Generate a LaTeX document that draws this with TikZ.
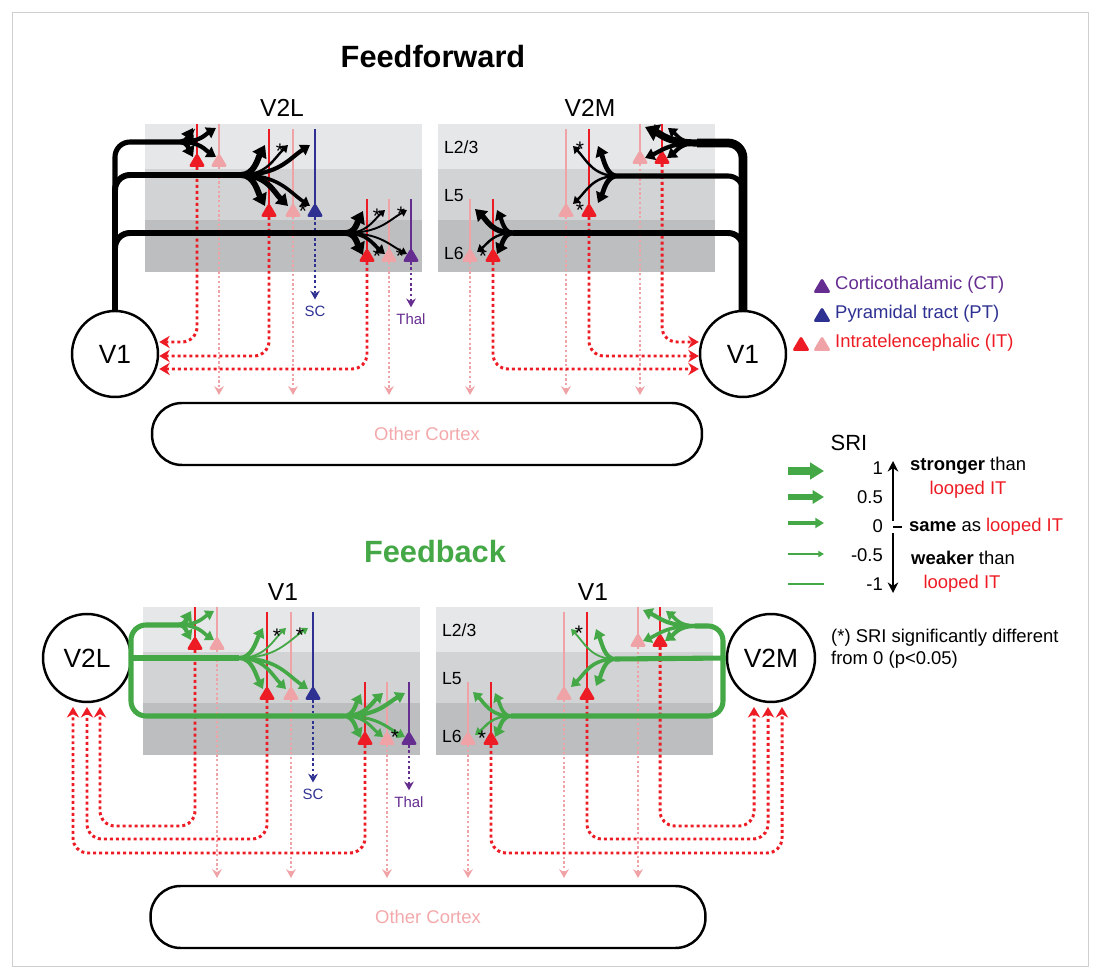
\documentclass[tikz,border=0pt]{standalone}
\usepackage{fontspec}
\setmainfont{Liberation Sans}
\usetikzlibrary{arrows.meta}
\definecolor{ITr}{HTML}{ED1C24}
\definecolor{ITp}{HTML}{F0A3A6}
\definecolor{PT}{HTML}{2E3192}
\definecolor{CT}{HTML}{662D91}
\definecolor{FB}{HTML}{44A847}
\definecolor{Lay1}{HTML}{E6E7E8}
\definecolor{Lay2}{HTML}{D1D3D4}
\definecolor{Lay3}{HTML}{BCBEC0}
\definecolor{OC}{HTML}{F3A9AB}
\definecolor{Frame}{HTML}{CFCFCF}
\newcommand{\soma}[4]{\fill[#1,rounded corners=1.5pt] (#2-#4,#3) -- (#2,#3-1.7*#4) -- (#2+#4,#3) -- cycle;}
\newcommand{\branch}[6]{\draw[#1,line width=#2*0.68pt,-{Triangle[length=2pt 1.4,width=2.5pt 1.8]}] (#3,#4) .. controls ({#3+0.55*(#5-#3)},#4) and ({#5-0.3*(#5-#3)},{#6+0.45*(#4-#6)}) .. (#5,#6);}
\tikzset{
  ttl/.style={font=\fontsize{17.5}{20}\selectfont\bfseries},
  area/.style={font=\fontsize{14}{16}\selectfont},
  ring/.style={draw,circle,line width=1.4pt,minimum size=1.72cm,inner sep=0pt,font=\fontsize{15}{17}\selectfont},
  ocbox/.style={draw,line width=1.4pt,rounded corners=0.6cm,minimum width=11cm,minimum height=1.24cm,text=OC,font=\fontsize{10.5}{12}\selectfont},
  lay/.style={font=\fontsize{10}{12}\selectfont,anchor=west},
  leg/.style={font=\fontsize{10.5}{12.5}\selectfont},
  tgt/.style={font=\fontsize{8.5}{10}\selectfont},
  sig/.style={font=\fontsize{12}{12}\selectfont,inner sep=0pt},
  dend/.style={line width=1.4pt},
  ffax/.style={line width=3.4pt,rounded corners=0.3cm},
  fbax/.style={FB,line width=2.9pt,rounded corners=0.3cm},
  itred/.style={ITr,line width=1.7pt,dash pattern=on 1.7pt off 1.7pt,rounded corners=0.3cm,-{Stealth[length=6pt,width=7pt]}},
  itpink/.style={ITp,line width=1.3pt,dash pattern=on 1.3pt off 1.4pt,-{Stealth[length=5pt,width=5.5pt]}},
  tgtline/.style={line width=1.5pt,dash pattern=on 1.5pt off 1.5pt,-{Stealth[length=5pt,width=5.5pt]}},
}
\begin{document}
\begin{tikzpicture}[x=0.02cm,y=-0.02cm]
  \useasboundingbox (0,0) rectangle (1099,972);
  \draw[Frame,line width=0.5pt] (12,12) rectangle (1088,966);

  \node[ttl] (ff) at (433,57) {Feedforward};
  \node[ttl,text=FB] (fb) at (435,552) {Feedback};
  \node[area] (hT1) at (282,108) {V2L};
  \node[area] (hT2) at (590,108) {V2M};
  \node[area] (hB1) at (283,592) {V1};
  \node[area] (hB2) at (593,592) {V1};

  \node[ring] (v1L) at (115,354) {V1};
  \node[ring] (v1R) at (743,354) {V1};
  \node[ring,minimum size=1.76cm] (v2l) at (87,658) {V2L};
  \node[ring,minimum size=1.76cm] (v2m) at (771,658) {V2M};
  \node[ocbox] (ocT) at (427,434) {Other Cortex};
  \node[ocbox,minimum width=11.1cm] (ocB) at (428,917) {Other Cortex};

  \foreach \sx/\sy/\p in {0/0/T,-2/483/B} {
    \begin{scope}[shift={(\sx,\sy)}]
      \foreach \xa/\xb in {145/422,438/715} {
        \fill[Lay1] (\xa,124) rectangle (\xb,169);
        \fill[Lay2] (\xa,169) rectangle (\xb,220);
        \fill[Lay3] (\xa,220) rectangle (\xb,272);
      }
      \node[lay] (la\p) at (438,147) {L2/3};
      \node[lay] (lb\p) at (438,196) {L5};
      \node[lay] (lc\p) at (438,253) {L6};
      \foreach \x/\yt/\yb/\c [count=\n] in {197/124/167/ITr,219/124/167/ITp,
          269/129/217/ITr,293/129/217/ITp,315/129/217/PT,
          367/199/262/ITr,389/199/262/ITp,411/199/262/CT,
          470/199/262/ITp,493/199/262/ITr,566/129/217/ITp,589/129/217/ITr,
          640/124/164/ITp,662/124/164/ITr} {
        \draw[\c,dend] (\x,\yt) -- (\x,\yb-5);
        \soma{\c}{\x}{\yb}{8.5}
        \coordinate (s\p\n) at (\x,\yb);
      }
      \foreach \n in {2,4,7,9,11,13}
        \draw[itpink] (s\p\n) -- (s\p\n |- 0,395);
      \node[tgt,text=PT] (sc\p) at (315,311) {SC};
      \node[tgt,text=CT] (th\p) at (411,319) {Thal};
      \draw[tgtline,PT] (s\p5) -- (sc\p.north);
      \draw[tgtline,CT] (s\p8) -- (th\p.north);
    \end{scope}
  }

  \foreach \n/\y in {1/342,3/356,6/369}
    \draw[itred] (sT\n) |- (v1L.east |- 0,\y);
  \foreach \n/\y in {14/342,12/356,10/369}
    \draw[itred] (sT\n) |- (v1R.west |- 0,\y);
  \foreach \n/\y/\x in {1/826/100,3/839/87,6/853/73,14/826/754,12/839/768,10/853/782}
    \draw[itred] (sB\n) -- (sB\n |- 0,\y) -| (\x,707);

  \draw[ffax,line width=2.9pt] (v1L.north) -- (115,142) -- (181,142);
  \draw[ffax] (v1L.north) -- (115,175) -- (241,175);
  \draw[ffax] (v1L.north) -- (115,233) -- (346,233);
  \draw[ffax,line width=5pt] (v1R.north) -- (743,143) -- (697,143);
  \draw[ffax,line width=2.9pt] (v1R.north) -- (743,176) -- (617,176);
  \draw[ffax] (v1R.north) -- (743,233) -- (513,233);

  \draw[fbax] (v2l.east) -- (239,658);
  \draw[fbax] (179,625) -- (131,625) -- (131,716) -- (344,716);
  \draw[fbax] (v2m.west) -- (615,659);
  \draw[fbax] (695,626) -- (723,626) -- (723,716) -- (511,716);

  \foreach \fx/\fy/\tx/\ty/\wa/\wb in {181/142/193/128/4.5/4,181/142/193/157/4/3.5,
      181/142/216/128/3.5/3,181/142/216/157/3.5/3,
      241/175/265/145/5/3.5,241/175/288/145/2/1.5,241/175/310/145/3.5/1.5,
      241/175/265/206/5/3.5,241/175/288/206/4.5/3,241/175/310/206/3/3,
      346/233/363/211/5/3.5,346/233/385/210/1.6/3.5,346/233/407/210/1.6/3.5,
      346/233/363/255/5/3.5,346/233/385/254/3/2.5,346/233/407/254/1.6/2.5,
      697/143/645/127/6/3.5,697/143/668/128/3/3,697/143/645/158/3.5/3,697/143/667/158/3.5/3.5,
      617/176/573/146/2/1.5,617/176/598/146/4/3.5,617/176/573/204/2/3,617/176/598/203/4/3.5,
      513/233/475/209/4.5/3,513/233/497/210/3.5/3,513/233/477/252/2/2,513/233/497/254/4/3.5} {
    \branch{black}{\wa}{\fx}{\fy}{\tx}{\ty}
    \begin{scope}[shift={(-2,483)}]
      \branch{FB}{\wb}{\fx}{\fy}{\tx}{\ty}
    \end{scope}
  }

  \foreach \x/\y [count=\i] in {280/147,303/207,377/212,401/210,377/252,400/252,
      655/128,580/145,580/206,483/252,277/632,300/631,395/733,579/629,482/734}
    \node[sig] (ast\i) at (\x,\y+4) {*};

  \soma{CT}{822}{293}{9}
  \node[leg,anchor=west,text=CT] (lgct) at (829,285) {Corticothalamic (CT)};
  \soma{PT}{822}{322}{9}
  \node[leg,anchor=west,text=PT] (lgpt) at (829,314) {Pyramidal tract (PT)};
  \soma{ITr}{801}{351}{9}
  \soma{ITp}{822}{351}{9}
  \node[leg,anchor=west,text=ITr] (lgit) at (829,343) {Intratelencephalic (IT)};

  \node[font=\fontsize{12.5}{14}\selectfont] (sri) at (849,443) {SRI};
  \foreach \y/\w in {471/8,497/6,523/4,554/1.6}
    \draw[FB,line width=\w*0.567pt,-{Triangle[length=2pt 1.3,width=2pt 1.6]}] (788,\y) -- (824,\y);
  \draw[FB,line width=0.6pt] (788,584) -- (824,584);
  \foreach \y/\v [count=\i] in {468/1,497/0.5,526/0,555/-0.5,584/-1}
    \node[leg,anchor=east] (num\i) at (889,\y) {\v};
  \coordinate (up) at (893,461);
  \coordinate (mid) at (893,527);
  \coordinate (dn) at (893,593);
  \draw[line width=1.3pt,-{Stealth[length=6pt,width=6pt]}] (893,521) -- (up);
  \draw[line width=1.3pt,-{Stealth[length=6pt,width=6pt]}] (893,533) -- (dn);
  \draw[line width=1.3pt] (mid) -- ++(9,0);
  \node[leg,anchor=west] (t1) at (904,466) {\textbf{stronger} than};
  \node[leg,text=ITr] (t2) at (968,490) {looped IT};
  \node[leg,anchor=west] (t3) at (903,527) {\textbf{same} as \textcolor{ITr}{looped IT}};
  \node[leg,anchor=west] (t4) at (905,558) {\textbf{weaker} than};
  \node[leg,text=ITr] (t5) at (962,584) {looped IT};
  \node[leg,anchor=west,align=left] (note) at (825,649) {(*) SRI significantly different\\from 0 (p<0.05)};
\end{tikzpicture}
\end{document}
